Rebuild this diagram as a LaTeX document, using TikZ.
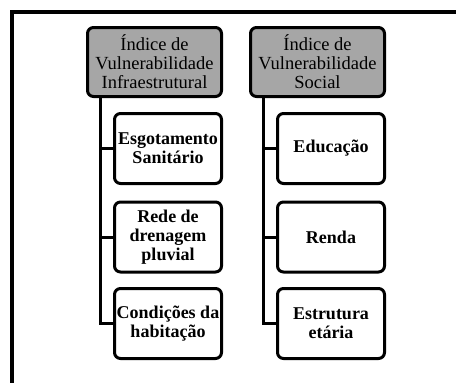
\documentclass[tikz,border=0pt]{standalone}
\usepackage{fontspec}
\setmainfont{Liberation Serif}
\begin{document}
\begin{tikzpicture}[x=1pt,y=-1pt,
  headbox/.style={draw=black,line width=3pt,rounded corners=6pt,fill=black!35,
    minimum width=134pt,minimum height=69pt,align=center,inner sep=0pt,
    font=\fontsize{18.5}{19}\selectfont},
  itembox/.style={draw=black,line width=3pt,rounded corners=6pt,fill=white,
    minimum width=107pt,minimum height=70pt,align=center,inner sep=0pt,
    font=\bfseries\fontsize{18}{19}\selectfont},
  conn/.style={line width=3pt}]
\useasboundingbox (0,0) rectangle (456,383);
\coordinate (ftop) at (456,11.5);
\coordinate (fcorner) at (11.5,11.5);
\coordinate (fbot) at (11.5,383);
\draw[line width=4pt] (ftop) -- (fcorner) -- (fbot);

\node[headbox] (h1) at (154.5,62) {Índice de\\Vulnerabilidade\\Infraestrutural};
\node[headbox] (h2) at (317.5,62) {Índice de\\Vulnerabilidade\\Social};

\node[itembox] (a1) at (168,148.5) {Esgotamento\\Sanitário};
\node[itembox] (a2) at (168,237) {Rede de\\drenagem\\pluvial};
\node[itembox] (a3) at (168,323.5) {Condições da\\habitação};

\node[itembox] (b1) at (331,148.5) {Educação};
\node[itembox] (b2) at (331,237) {Renda};
\node[itembox] (b3) at (331,323.5) {Estrutura\\etária};

\coordinate (v1) at (100,0);
\coordinate (v2) at (263,0);
\draw[conn] (h1.south -| v1) |- (a3.west);
\draw[conn] (a1.west) -- (a1.west -| v1);
\draw[conn] (a2.west) -- (a2.west -| v1);
\draw[conn] (h2.south -| v2) |- (b3.west);
\draw[conn] (b1.west) -- (b1.west -| v2);
\draw[conn] (b2.west) -- (b2.west -| v2);
\end{tikzpicture}
\end{document}
